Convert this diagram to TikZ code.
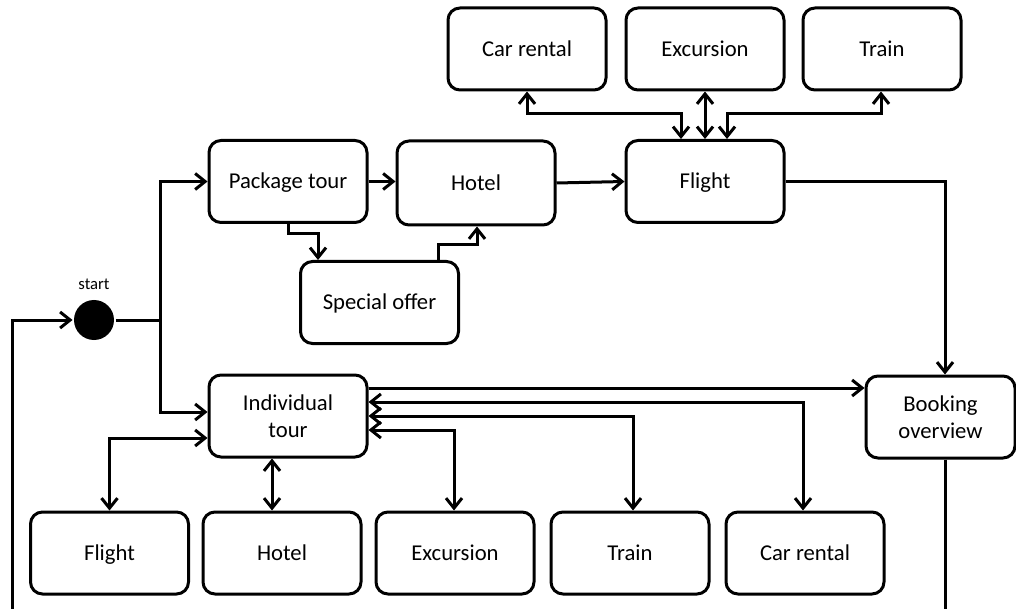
\documentclass[tikz,border=0pt]{standalone}
\usepackage{fontspec}
\setmainfont{Carlito}
\usetikzlibrary{arrows.meta}
\begin{document}
\begin{tikzpicture}[x=0.75pt,y=-0.75pt,
  line width=2.25pt,
  >={Straight Barb[length=7.5pt,width=12pt]},
  state/.style={draw,rounded corners=9pt,minimum width=118.5pt,minimum height=61.5pt,
    align=center,font=\fontsize{17}{20}\selectfont,inner sep=2pt},
  oneline/.style={state,text height=13pt,text depth=2pt},
  conn/.style={line join=miter}]
\useasboundingbox (0,0) rectangle (1016,609);

% upper services
\node[oneline] (carT)   at (527,49)  {Car rental};
\node[oneline] (excT)   at (705,49)  {Excursion};
\node[oneline] (trainT) at (882,49)  {Train};

% package tour branch
\node[oneline] (pkg)     at (288,181.5) {Package tour};
\node[oneline,minimum height=63pt] (hotelT) at (476,183) {Hotel};
\node[oneline] (flightT) at (705,181.5) {Flight};
\node[oneline] (special) at (379.5,302.5) {Special offer};

% start point
\node[circle,fill,minimum size=30pt,inner sep=0pt,
  label={[font=\fontsize{12.5}{14}\selectfont,label distance=2pt]above:start}] (start) at (94,320) {};
\coordinate (split) at (160,320);
\coordinate (loopend) at (12,612);

% individual tour branch
\node[state] (ind)  at (288,416) {Individual\\tour};
\node[state,minimum width=111.75pt] (book) at (940.5,417) {Booking\\overview};
\coordinate (bookend) at (945,612);

% lower services
\node[oneline] (flightB) at (109.5,553) {Flight};
\node[oneline] (hotelB)  at (282,553)   {Hotel};
\node[oneline] (excB)    at (455,553)   {Excursion};
\node[oneline] (trainB)  at (630,553)   {Train};
\node[oneline] (carB)    at (805,553)   {Car rental};

% start and loop back
\draw[conn,->] (loopend) |- (start.west);
\draw[conn] (start.east) -- (split);
\draw[conn,->] (split) |- (pkg.west);
\draw[conn,->] (split) |- (ind.west |- 0,412);

% package tour flow
\draw[conn,->] (pkg.east) -- (hotelT.west |- pkg.east);
\draw[conn,->] (hotelT.east) -- (flightT.west);
\draw[conn,->] (pkg.south) -- ++(0,10) -| (special.north -| 318,0);
\draw[conn,->] (special.north -| 438,0) -- ++(0,-15) -| (hotelT.south -| 477,0);

% flight extras
\draw[conn,<->] (carT.south) |- (681,114) -- (flightT.north -| 681,0);
\draw[conn,<->] (excT.south) -- (flightT.north);
\draw[conn,<->] (trainT.south -| 881,0) |- (727,114) -- (flightT.north -| 727,0);

% to booking overview
\draw[conn,->] (flightT.east) -| (book.north -| 945,0);
\draw[conn,->] (ind.east |- 0,388) -- (book.west |- 0,388);
\draw[conn] (book.south -| 945,0) -- (bookend);

% individual tour services
\draw[conn,<->] (ind.west |- 0,438) -| (flightB.north);
\draw[conn,<->] (ind.south -| 272,0) -- (hotelB.north -| 272,0);
\draw[conn,<->] (ind.east |- 0,402) -| (carB.north -| 803,0);
\draw[conn,<->] (ind.east |- 0,416) -| (trainB.north -| 633,0);
\draw[conn,<->] (ind.east |- 0,430) -| (excB.north -| 454,0);
\end{tikzpicture}
\end{document}
